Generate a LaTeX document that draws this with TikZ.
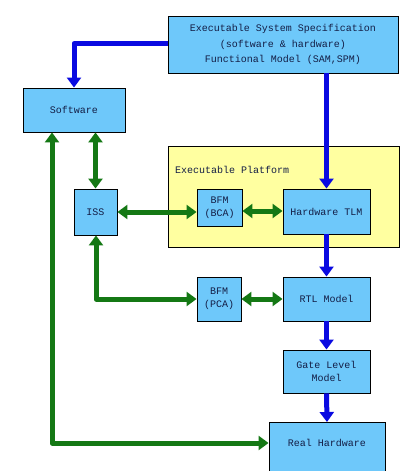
\documentclass[tikz,border=0pt]{standalone}
\usepackage{fontspec}
\setmainfont{Liberation Mono}
\usetikzlibrary{arrows.meta,calc}
\definecolor{boxblue}{RGB}{110,200,250}
\definecolor{platyellow}{RGB}{255,255,160}
\definecolor{garrow}{RGB}{20,120,20}
\definecolor{barrow}{RGB}{10,10,225}
\definecolor{txtcol}{RGB}{20,30,70}
\tikzset{
  blk/.style={draw=black, line width=0.9pt, fill=boxblue, inner sep=0pt, align=center,
    text=txtcol, font=\fontsize{10}{15.5}\selectfont},
  garr/.style={draw=garrow, line width=5pt, line join=round,
    {Triangle[width=14pt,length=10pt]}-{Triangle[width=14pt,length=10pt]}},
  barr/.style={draw=barrow, line width=5pt, line join=round,
    -{Triangle[width=14pt,length=10pt]}},
}
\begin{document}
\begin{tikzpicture}[x=1pt,y=-1pt]
\useasboundingbox (0,0) rectangle (404,471);
\clip (0,0) rectangle (404,471);
\fill[white] (0,0) rectangle (404,471);
% platform
\node[draw=black, line width=0.9pt, fill=platyellow, minimum width=231pt, minimum height=101pt, inner sep=0pt] (plat) at (283.5,196.5) {};
\node[anchor=west, inner sep=0pt, text=txtcol, font=\fontsize{10}{12}\selectfont] (plattxt) at (175,170) {Executable Platform};
% blocks
\node[blk, minimum width=230pt, minimum height=57pt] (top) at (283,44.5) {Executable System Specification\\(software \& hardware)\\Functional Model (SAM,SPM)};
\node[blk, minimum width=102pt, minimum height=44pt] (sw) at (74,110) {Software};
\node[blk, minimum width=43pt, minimum height=46pt] (iss) at (95.5,212) {ISS};
\node[blk, minimum width=45pt, minimum height=37pt, font=\fontsize{10}{13}\selectfont] (bca) at (219.5,207.5) {BFM\\(BCA)};
\node[blk, minimum width=87pt, minimum height=45pt] (tlm) at (326.5,211.5) {Hardware TLM};
\node[blk, minimum width=44pt, minimum height=44pt, font=\fontsize{10}{13}\selectfont] (pca) at (219,299) {BFM\\(PCA)};
\node[blk, minimum width=87pt, minimum height=44pt] (rtl) at (326.5,299) {RTL Model};
\node[blk, minimum width=87pt, minimum height=43pt, font=\fontsize{10}{13.5}\selectfont] (gate) at (326.5,371.5) {Gate Level\\Model};
\node[blk, minimum width=116pt, minimum height=58pt, anchor=north] (bot) at (327,422) {};
\node[inner sep=0pt, text=txtcol, font=\fontsize{10}{12}\selectfont] (bottxt) at (327,443) {Real Hardware};
% blue arrows
\draw[barr] (top.west |- 0,43.5) -| (sw.north);
\draw[barr] (tlm.north |- top.south) -- (tlm.north);
\draw[barr] (tlm.south) -- (rtl.north);
\draw[barr] (rtl.south) -- (gate.north);
\draw[barr] (gate.south) -- (bot.north);
% green arrows
\coordinate (gcorner) at (52,443);
\coordinate (pcorner) at (96,299);
\draw[garr] (sw.south -| gcorner) -- (gcorner) -- (gcorner -| bot.west);
\draw[garr] (iss.north) -- (iss.north |- sw.south);
\draw[garr] (iss.east) -- (iss.east -| bca.west);
\draw[garr] (bca.east |- 0,211) -- (tlm.west |- 0,211);
\draw[garr] (iss.south -| pcorner) -- (pcorner) -- (pcorner -| pca.west);
\draw[garr] (pca.east |- 0,299) -- (rtl.west |- 0,299);
\end{tikzpicture}
\end{document}
